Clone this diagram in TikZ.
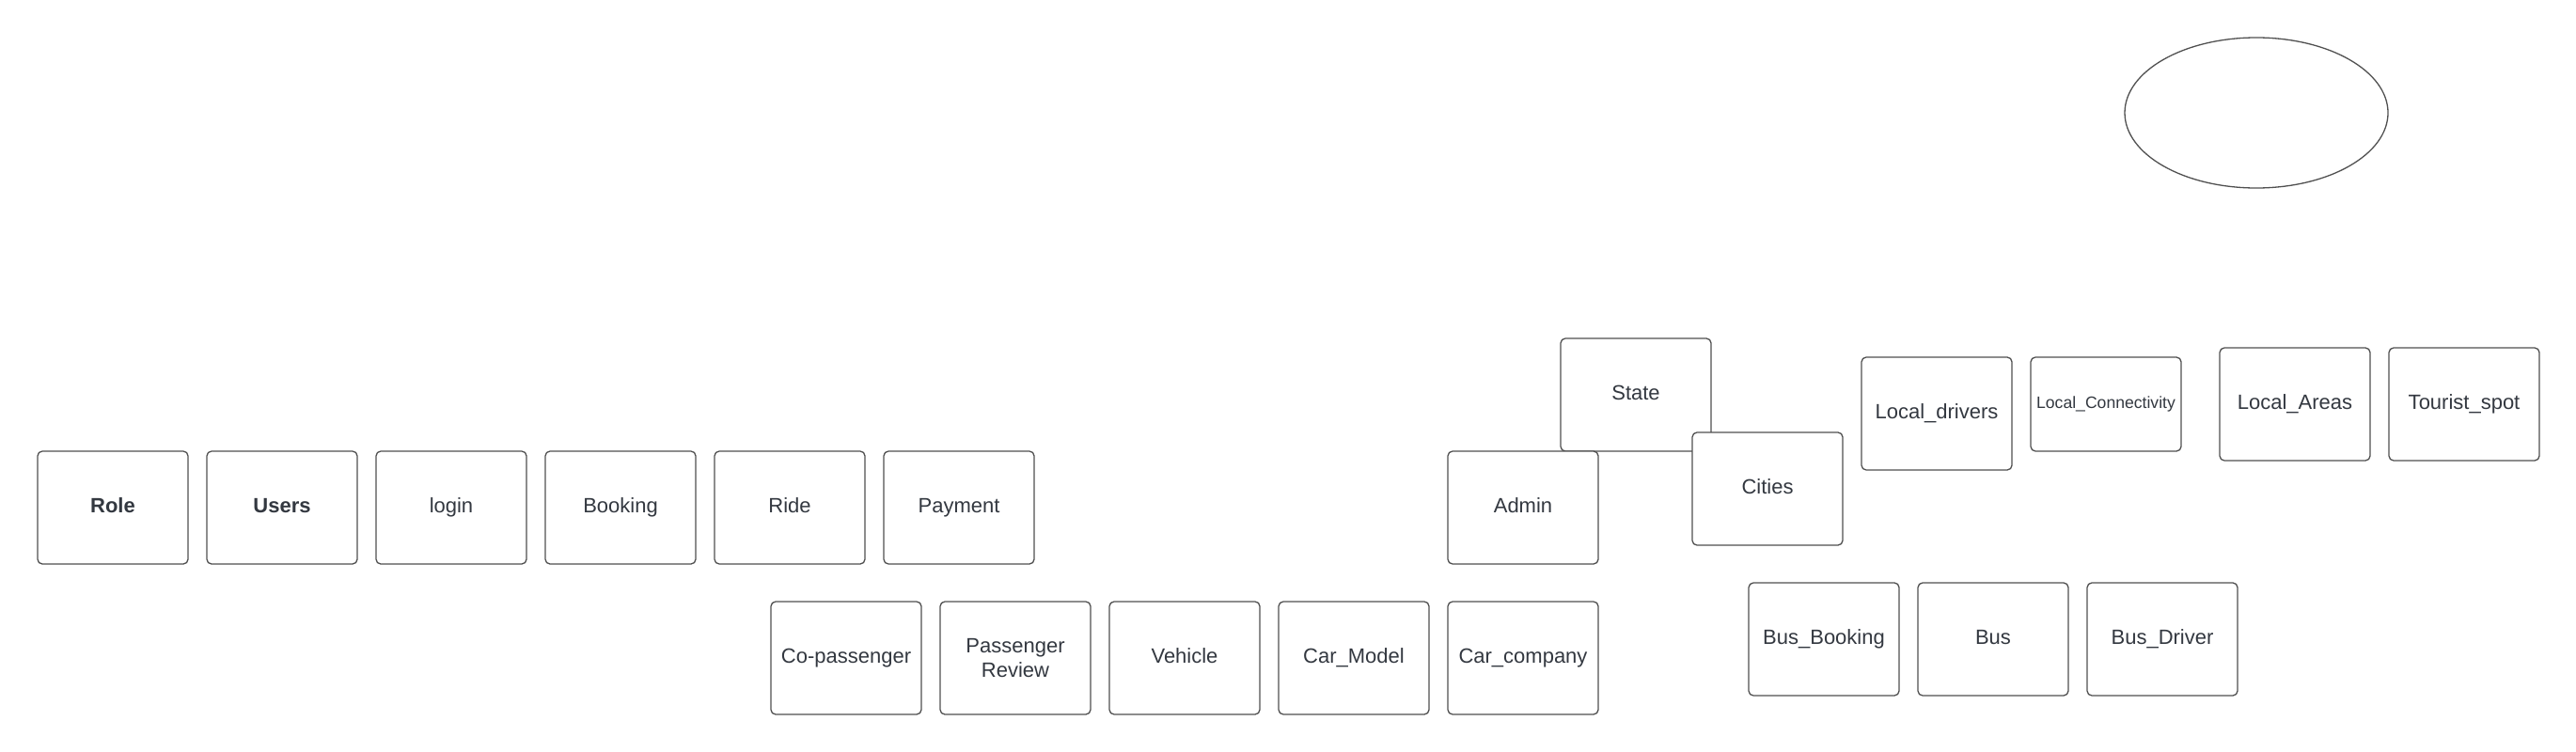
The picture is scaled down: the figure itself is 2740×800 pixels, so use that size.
\documentclass[tikz,border=0pt]{standalone}
\usepackage{fontspec}
\setmainfont{Liberation Sans}
\usetikzlibrary{shapes.geometric}
\definecolor{boxgray}{HTML}{505050}
\definecolor{txt}{HTML}{333840}
\begin{document}
\begin{tikzpicture}[x=1pt,y=-1pt,
  entity/.style={draw=boxgray, line width=1.3pt, rounded corners=5pt, fill=white,
    minimum width=160pt, minimum height=120pt, inner sep=0pt, align=center,
    text=txt, font=\fontsize{22}{26}\selectfont, text height=16pt, text depth=6pt},
  smallent/.style={entity, minimum height=100pt, font=\fontsize{17.6}{20}\selectfont, text height=13pt, text depth=5pt},
  oval/.style={draw=boxgray, line width=1.3pt, ellipse, minimum width=280pt, minimum height=160pt, inner sep=0pt}]
\useasboundingbox (0,0) rectangle (2740,800);
\node[oval] (ov) at (2400,120) {};
% row 1
\node[entity, font=\fontsize{22}{26}\selectfont\bfseries] (role) at (120,540) {Role};
\node[entity, font=\fontsize{22}{26}\selectfont\bfseries] (users) at (300,540) {Users};
\node[entity] (login) at (480,540) {login};
\node[entity] (booking) at (660,540) {Booking};
\node[entity] (ride) at (840,540) {Ride};
\node[entity] (payment) at (1020,540) {Payment};
% state / admin / cities
\node[entity] (state) at (1740,420) {State};
\node[entity] (admin) at (1620,540) {Admin};
\node[entity] (cities) at (1880,520) {Cities};
% local
\node[entity] (ldrivers) at (2060,440) {Local\_drivers};
\node[smallent] (lconn) at (2240,430) {Local\_Connectivity};
\node[entity] (lareas) at (2441,430) {Local\_Areas};
\node[entity] (tspot) at (2621,430) {Tourist\_spot};
% row 3
\node[entity] (copass) at (900,700) {Co-passenger};
\node[entity, text height=, text depth=] (preview) at (1080,700) {Passenger\\Review};
\node[entity] (vehicle) at (1260,700) {Vehicle};
\node[entity] (carmodel) at (1440,700) {Car\_Model};
\node[entity] (carcomp) at (1620,700) {Car\_company};
% bus
\node[entity] (busbook) at (1940,680) {Bus\_Booking};
\node[entity] (bus) at (2120,680) {Bus};
\node[entity] (busdrv) at (2300,680) {Bus\_Driver};
\end{tikzpicture}
\end{document}
